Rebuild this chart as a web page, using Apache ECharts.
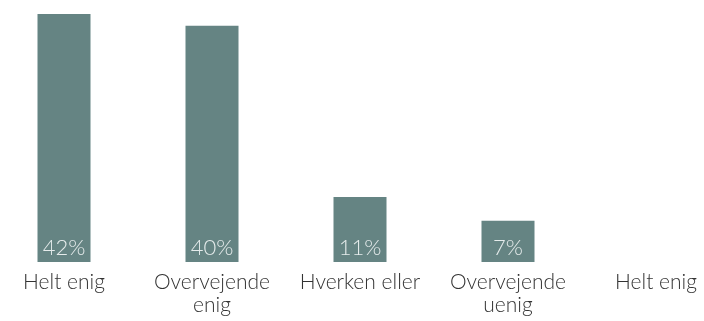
<!DOCTYPE html>
<html>
<head>
<meta charset="utf-8">
<style>
  html, body { margin: 0; padding: 0; background: #ffffff; overflow: hidden; }
  #chart { width: 740px; height: 321px; margin-left: -10px; }
</style>
<script src="https://cdn.jsdelivr.net/npm/echarts@6/dist/echarts.min.js"></script>
</head>
<body>
<div id="chart"></div>
<script>
// Survey answers, share of respondents (%)
const categories = ['Helt enig', 'Overvejende\nenig', 'Hverken eller', 'Overvejende\nuenig', 'Helt enig'];
const shares = [42, 40, 11, 7, null];

const chart = echarts.init(document.getElementById('chart'), null, { renderer: 'canvas' });

chart.setOption({
  animation: false,
  grid: { left: 0, right: 0, top: 14, bottom: 59, containLabel: false },
  xAxis: {
    type: 'category',
    data: categories,
    axisLine: { show: false },
    axisTick: { show: false },
    axisLabel: {
      interval: 0,
      margin: 9,
      fontFamily: 'Lato',
      fontWeight: 300,
      fontSize: 21,
      lineHeight: 23,
      color: '#333333'
    }
  },
  yAxis: {
    type: 'value',
    min: 0,
    max: 42,
    show: false,
    splitLine: { show: false }
  },
  series: [{
    type: 'bar',
    data: shares,
    barWidth: 53,
    itemStyle: { color: '#658483' },
    label: {
      show: true,
      position: 'insideBottom',
      distance: 3,
      formatter: p => p.value == null ? '' : p.value + '%',
      fontFamily: 'Lato',
      fontWeight: 300,
      fontSize: 22,
      color: '#e6ecec'
    }
  }]
});
</script>
</body>
</html>
